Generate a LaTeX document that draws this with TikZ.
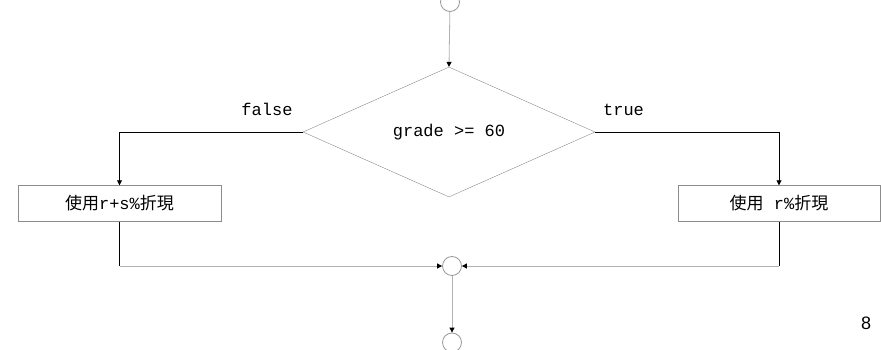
\documentclass[tikz,border=0pt]{standalone}
\usepackage{fontspec}
\setmonofont{Liberation Mono}
\newfontfamily\cjk{Noto Sans CJK TC}
\newfontfamily\pagefont{Liberation Sans}
\usetikzlibrary{arrows.meta,shapes.geometric}
\newcommand{\zh}[1]{{\cjk #1}}

\begin{document}
\begin{tikzpicture}[x=1pt, y=-1pt,
  font=\fontsize{17}{20}\selectfont\ttfamily,
  conn/.style={draw=black!40, line width=0.8pt, inner sep=0pt, minimum size=19pt, circle},
  cond/.style={draw=black!45, diamond, inner sep=0pt, minimum width=292pt, minimum height=130pt},
  box/.style={draw=black!45, inner sep=0pt, minimum height=36pt},
  arr/.style={-{Triangle[length=5pt, width=5pt, black]}},
  flow/.style={draw=black!30, line width=0.8pt},
  branch/.style={draw=black, line width=0.8pt}]
\useasboundingbox (0,0) rectangle (881,350);
\node[conn] (start) at (450,2) {};
\node[cond] (test) at (449,132) {grade >= 60};
\node[box, minimum width=203pt] (lo) at (119.5,203.5) {\zh{使用}r+s\%\zh{折現}};
\node[box, minimum width=202pt] (hi) at (779,203.5) {\zh{使用} r\%\zh{折現}};
\node[conn] (join) at (452,266) {};
\node[conn] (stop) at (452,342.5) {};
\node[anchor=base] (no) at (267,116) {false};
\node[anchor=base] (yes) at (623.5,116) {true};
\node[font=\fontsize{18}{20}\pagefont] (page) at (866,323) {8};
\coordinate (lodown) at (lo.south |- join);
\coordinate (hidown) at (hi.south |- join);
\draw[flow, arr] (start) -- (test.north);
\draw[branch, arr] (test.west) -| (lo.north);
\draw[branch, arr] (test.east) -| (hi.north);
\draw[branch] (lo.south) -- (lodown);
\draw[branch] (hi.south) -- (hidown);
\draw[flow, arr] (lodown) -- (join.west);
\draw[flow, arr] (hidown) -- (join.east);
\draw[flow, arr] (join) -- (stop);
\end{tikzpicture}
\end{document}
